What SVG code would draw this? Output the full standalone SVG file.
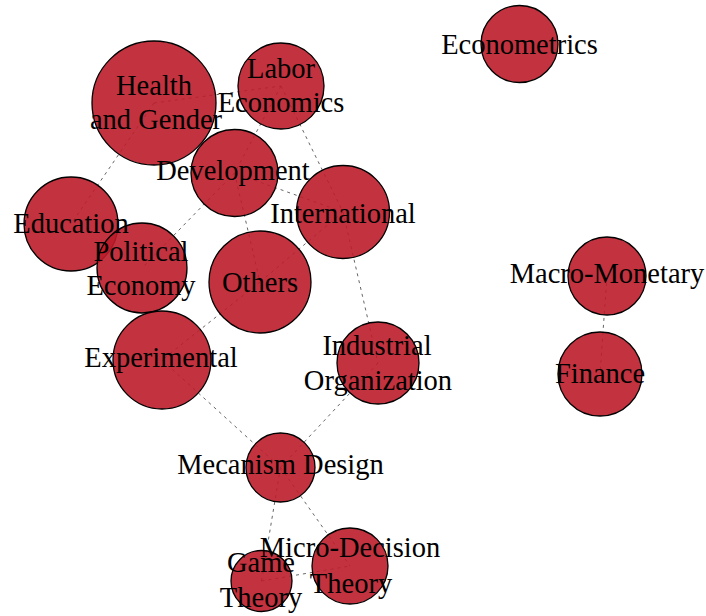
<svg xmlns="http://www.w3.org/2000/svg" width="706" height="616" viewBox="0 0 706 616">
<style>
.edge{stroke:#555;stroke-width:0.9;stroke-dasharray:3 4;fill:none}
.node circle{fill:#BD1C2A;fill-opacity:0.9;stroke:#000;stroke-width:1.3}
.lbl{font-family:"Liberation Serif","Times New Roman",serif;font-size:28.5px;fill:#000;text-anchor:middle}
</style>
<rect width="706" height="616" fill="#fff"/>
<g id="connectors">
<line class="edge" x1="154" y1="103" x2="71" y2="224"/>
<line class="edge" x1="154" y1="103" x2="281" y2="86"/>
<line class="edge" x1="281" y1="86" x2="234.5" y2="173"/>
<line class="edge" x1="281" y1="86" x2="343" y2="212"/>
<line class="edge" x1="234.5" y1="173" x2="343" y2="212"/>
<line class="edge" x1="234.5" y1="173" x2="142" y2="268"/>
<line class="edge" x1="234.5" y1="173" x2="260" y2="282"/>
<line class="edge" x1="343" y1="212" x2="260" y2="282"/>
<line class="edge" x1="343" y1="212" x2="378" y2="363"/>
<line class="edge" x1="260" y1="282" x2="162" y2="360"/>
<line class="edge" x1="162" y1="360" x2="280.5" y2="467.5"/>
<line class="edge" x1="378" y1="363" x2="280.5" y2="467.5"/>
<line class="edge" x1="280.5" y1="467.5" x2="261.5" y2="581"/>
<line class="edge" x1="280.5" y1="467.5" x2="350" y2="566"/>
<line class="edge" x1="261.5" y1="581" x2="350" y2="566"/>
<line class="edge" x1="607" y1="276" x2="600" y2="374"/>
</g>
<g id="nodes">
<g id="node-health" class="node"><circle cx="154" cy="103" r="62"/></g>
<g id="node-labor" class="node"><circle cx="281" cy="86" r="43"/></g>
<g id="node-development" class="node"><circle cx="234.5" cy="173" r="43.5"/></g>
<g id="node-international" class="node"><circle cx="343" cy="212" r="46.5"/></g>
<g id="node-education" class="node"><circle cx="71" cy="224" r="47"/></g>
<g id="node-political" class="node"><circle cx="142" cy="268" r="45"/></g>
<g id="node-others" class="node"><circle cx="260" cy="282" r="51"/></g>
<g id="node-experimental" class="node"><circle cx="162" cy="360" r="49"/></g>
<g id="node-industrial" class="node"><circle cx="378" cy="363" r="41"/></g>
<g id="node-mecanism" class="node"><circle cx="280.5" cy="467.5" r="34.5"/></g>
<g id="node-game" class="node"><circle cx="261.5" cy="581" r="30.5"/></g>
<g id="node-micro" class="node"><circle cx="350" cy="566" r="38"/></g>
<g id="node-econometrics" class="node"><circle cx="519.5" cy="44" r="38.5"/></g>
<g id="node-macro" class="node"><circle cx="607" cy="276" r="39"/></g>
<g id="node-finance" class="node"><circle cx="600" cy="374" r="42"/></g>
</g>
<g id="labels">
<text id="label-health" class="lbl"><tspan x="154" y="95">Health</tspan><tspan x="156" y="129">and Gender</tspan></text>
<text id="label-labor" class="lbl"><tspan x="281" y="78">Labor</tspan><tspan x="281" y="112">Economics</tspan></text>
<text id="label-development" class="lbl" x="233" y="180">Development</text>
<text id="label-international" class="lbl" x="343" y="223">International</text>
<text id="label-education" class="lbl" x="71" y="233">Education</text>
<text id="label-political" class="lbl"><tspan x="141" y="261">Political</tspan><tspan x="141" y="295">Economy</tspan></text>
<text id="label-others" class="lbl" x="260" y="292">Others</text>
<text id="label-experimental" class="lbl" x="161" y="367">Experimental</text>
<text id="label-industrial" class="lbl"><tspan x="377" y="355">Industrial</tspan><tspan x="378" y="390">Organization</tspan></text>
<text id="label-mecanism" class="lbl" x="280.5" y="474">Mecanism Design</text>
<text id="label-game" class="lbl"><tspan x="261" y="572">Game</tspan><tspan x="261" y="607">Theory</tspan></text>
<text id="label-micro" class="lbl"><tspan x="350" y="557">Micro-Decision</tspan><tspan x="351" y="593">Theory</tspan></text>
<text id="label-econometrics" class="lbl" x="519.5" y="54">Econometrics</text>
<text id="label-macro" class="lbl" x="607" y="283">Macro-Monetary</text>
<text id="label-finance" class="lbl" x="600" y="383">Finance</text>
</g>
</svg>
